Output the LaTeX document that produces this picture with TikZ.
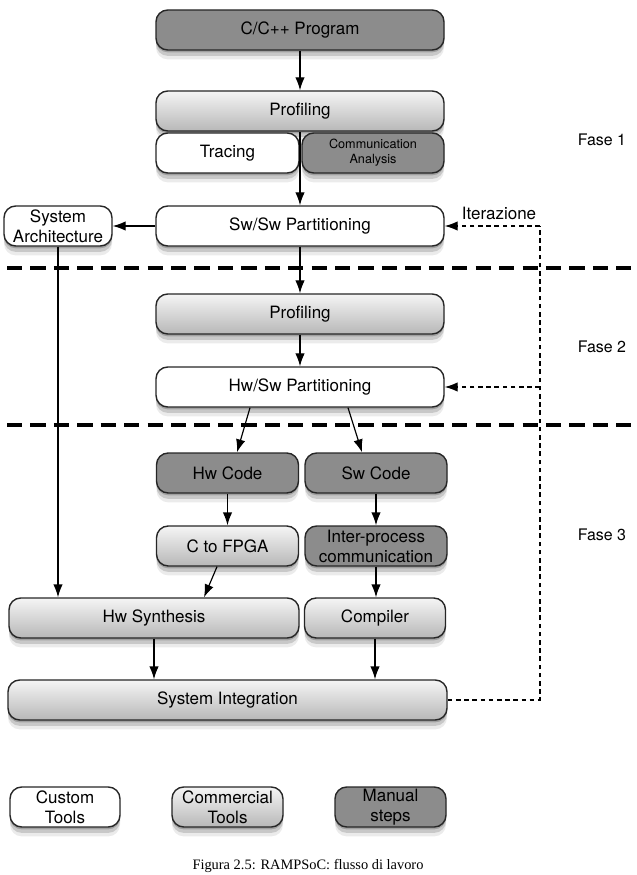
\documentclass[tikz,border=0pt]{standalone}
\usepackage{fontspec}
\setmainfont{TeX Gyre Heros}
\newfontfamily\captionfont{Liberation Serif}
\usetikzlibrary{calc, arrows.meta, shadows}

\begin{document}
\begin{tikzpicture}[x=0.03cm, y=-0.03cm, >={Latex[length=11pt,width=8pt]},
    softshadow/.style={drop shadow={shadow xshift=0pt, shadow yshift=-2pt, opacity=0.2, fill=black},
                       drop shadow={shadow xshift=0pt, shadow yshift=-5pt, opacity=0.15, fill=black},
                       drop shadow={shadow xshift=0pt, shadow yshift=-8pt, opacity=0.08, fill=black}},
    box/.style={draw=black!85, line width=1.2pt, rounded corners=10pt, softshadow,
                minimum width=#1*0.03cm, minimum height=40*0.03cm, inner sep=0pt,
                align=center, font=\fontsize{14.5}{17}\selectfont},
    box/.default=288,
    custom/.style={fill=white},
    commercial/.style={top color=black!4, bottom color=black!28},
    manual/.style={fill=black!45},
    arr/.style={->, line width=1pt},
    iter/.style={line width=1pt, dash pattern=on 4pt off 3pt},
    sep/.style={line width=3pt, dash pattern=on 13pt off 7pt},
    phase/.style={font=\fontsize{13.6}{16}\selectfont}]
    \clip (0,0) rectangle (636,875);

    % fase 1
    \node[box, manual] (prog) at (300,30) {C/C++ Program};
    \node[box, commercial] (prof1) at (300,111) {Profiling};
    \node[box=143, custom] (trace) at (227.5,153) {Tracing};
    \node[box=142, manual, font=\fontsize{10.8}{13}\selectfont] (comm) at (373,153) {Communication\\Analysis};
    \node[box, custom] (swsw) at (300,226) {Sw/Sw Partitioning};
    \node[box=108, custom] (sysarch) at (58,226) {System\\Architecture};

    % fase 2
    \node[box, commercial] (prof2) at (300,314) {Profiling};
    \node[box, custom] (hwsw) at (300,387) {Hw/Sw Partitioning};

    % fase 3
    \node[box=142, manual] (hwcode) at (227.5,473) {Hw Code};
    \node[box=142, manual] (swcode) at (376,473) {Sw Code};
    \node[box=142, commercial] (ctofpga) at (227.5,546) {C to FPGA};
    \node[box=142, manual] (ipc) at (376,546) {Inter-process\\communication};
    \node[box=290, commercial] (hwsyn) at (154,618) {Hw Synthesis};
    \node[box=141, commercial] (compiler) at (375,618) {Compiler};
    \node[box=439, commercial] (sysint) at (227.5,700) {System Integration};

    % legend
    \node[box=110, custom] (lcustom) at (65,807) {Custom\\Tools};
    \node[box=111, commercial] (lcommercial) at (227.5,807) {Commercial\\Tools};
    \node[box=111, manual] (lmanual) at (390.5,807) {Manual\\steps};

    % phases and separators
    \node[phase] (fase1) at (602,140) {Fase 1};
    \node[phase] (fase2) at (602,347) {Fase 2};
    \node[phase] (fase3) at (602,535) {Fase 3};
    \draw[sep] (7,268) -- (636,268);
    \draw[sep] (7,425) -- (636,425);

    % the arrows
    \draw[arr] (prog) -- (prof1);
    \draw[arr] (prof1) -- (swsw);
    \draw[arr] (swsw) -- (sysarch);
    \draw[arr] (swsw) -- (prof2);
    \draw[arr] (prof2) -- (hwsw);
    \draw[arr] ($(hwsw.south)+(-50,0)$) -- ($(hwcode.north)+(9.5,0)$);
    \draw[arr] ($(hwsw.south)+(48,0)$) -- ($(swcode.north)+(-14,0)$);
    \draw[arr] (hwcode) -- (ctofpga);
    \draw[arr] (swcode) -- (ipc);
    \draw[arr] ($(ctofpga.south)+(-10.5,0)$) -- ($(hwsyn.north)+(50,0)$);
    \draw[arr] (ipc.south) -- (ipc.south |- compiler.north);
    \draw[arr] (sysarch.south) -- (sysarch.south |- hwsyn.north);
    \draw[arr] (hwsyn.south) -- (hwsyn.south |- sysint.north);
    \draw[arr] (compiler.south) -- (compiler.south |- sysint.north);

    % iterazione
    \coordinate (ittop) at (540,226);
    \node[font=\fontsize{14.5}{17}\selectfont] (iterlbl) at (499,213) {Iterazione};
    \draw[iter] (sysint.east) -| (ittop);
    \draw[iter, ->] (ittop) -- (swsw.east);
    \draw[iter, ->] (hwsw.east -| ittop) -- (hwsw.east);

    \node[font=\captionfont\fontsize{12.3}{14}\selectfont, anchor=base] (caption) at (308,869) {Figura 2.5: RAMPSoC: flusso di lavoro};
\end{tikzpicture}
\end{document}
